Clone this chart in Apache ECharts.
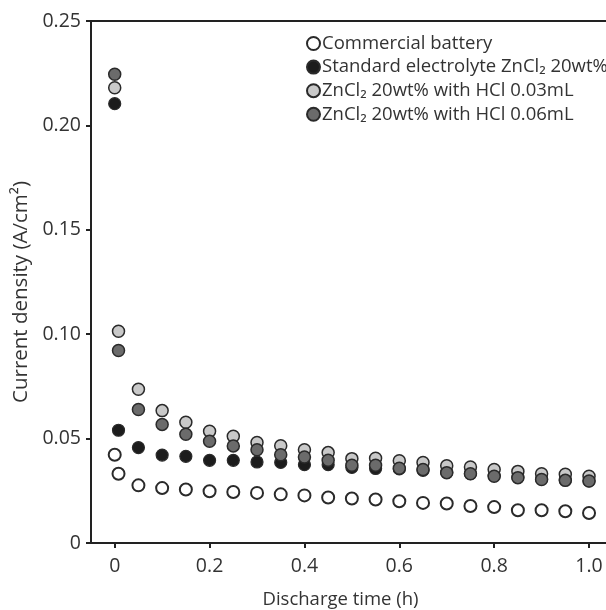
<!DOCTYPE html>
<html>
<head>
<meta charset="utf-8">
<script src="https://cdn.jsdelivr.net/npm/echarts@6/dist/echarts.min.js"></script>
<style>html,body{margin:0;padding:0;background:#fff}#c{width:606px;height:610px}</style>
</head>
<body>
<div id="c"></div>
<script>
var times = [0, 0.008, 0.05, 0.1, 0.15, 0.2, 0.25, 0.3, 0.35, 0.4, 0.45, 0.5, 0.55, 0.6, 0.65, 0.7, 0.75, 0.8, 0.85, 0.9, 0.95, 1.0];
var commercial = [0.0423, 0.0332, 0.0276, 0.0263, 0.0256, 0.0248, 0.0244, 0.0240, 0.0233, 0.0228, 0.0218, 0.0213, 0.0208, 0.0200, 0.0192, 0.0189, 0.0177, 0.0172, 0.0157, 0.0157, 0.0152, 0.0144];
var standard = [0.2104, 0.0540, 0.0457, 0.0421, 0.0415, 0.0396, 0.0396, 0.0388, 0.0386, 0.0375, 0.0375, 0.0362, 0.0357, 0.0355, 0.0348, 0.0338, 0.0332, 0.0323, 0.0316, 0.0307, 0.0302, 0.0298];
var hcl003 = [0.2180, 0.1014, 0.0736, 0.0634, 0.0578, 0.0535, 0.0511, 0.0481, 0.0466, 0.0447, 0.0433, 0.0404, 0.0406, 0.0394, 0.0386, 0.0370, 0.0364, 0.0352, 0.0343, 0.0332, 0.0329, 0.0320];
var hcl006 = [0.2245, 0.0922, 0.0639, 0.0568, 0.0521, 0.0487, 0.0465, 0.0447, 0.0423, 0.0412, 0.0396, 0.0372, 0.0372, 0.0358, 0.0352, 0.0337, 0.0332, 0.0320, 0.0313, 0.0304, 0.0300, 0.0297];
var names = ['Commercial battery', 'Standard electrolyte ZnCl\u2082 20wt%', 'ZnCl\u2082 20wt% with HCl 0.03mL', 'ZnCl\u2082 20wt% with HCl 0.06mL'];
var xTicks = [0, 0.2, 0.4, 0.6, 0.8, 1.0];
var yTicks = [0, 0.05, 0.10, 0.15, 0.20, 0.25];

function pairs(ys){ return times.map(function(t,i){ return [t, ys[i]]; }); }
var font = 'Open Sans';
function ser(name, ys, fill, z, bw){
  return {
    name: name, type: 'scatter', data: pairs(ys), symbol: 'circle', symbolSize: 12, z: z,
    itemStyle: { color: fill, borderColor: '#2a2a2a', borderWidth: bw, opacity: 1 },
    emphasis: { disabled: true }
  };
}
var chart = echarts.init(document.getElementById('c'), null, {renderer: 'canvas'});
chart.setOption({
  animation: false,
  textStyle: { fontFamily: font },
  grid: { left: 91, top: 21, width: 517, height: 522, show: true, borderColor: '#222', borderWidth: 2, containLabel: false, outerBoundsMode: 'none' },
  legend: {
    orient: 'vertical', left: 301, top: 29, itemWidth: 13, itemHeight: 13, itemGap: 4.6,
    icon: 'circle', selectedMode: false,
    data: names,
    textStyle: { fontFamily: font, fontSize: 18.5, color: '#333', lineHeight: 18, padding: [0,0,0,-3] }
  },
  xAxis: {
    type: 'value', min: -0.05, max: 1.04,
    name: 'Discharge time (h)', nameLocation: 'middle', nameGap: 47,
    nameTextStyle: { fontFamily: font, fontSize: 18.5, color: '#333', padding: [0, 18, 0, 0] },
    axisLine: { show: true, onZero: false, lineStyle: { color: '#222', width: 2 } },
    axisTick: { show: true, length: 5, lineStyle: { color: '#222', width: 2 }, customValues: xTicks },
    axisLabel: { fontFamily: font, fontSize: 19.5, color: '#333', margin: 13, customValues: xTicks,
      formatter: function(v){ return v === 0 ? '0' : v.toFixed(1); } },
    splitLine: { show: false }
  },
  yAxis: {
    type: 'value', min: 0, max: 0.25, interval: 0.05,
    name: 'Current density (A/cm\u00b2)', nameLocation: 'middle', nameGap: 58,
    nameTextStyle: { fontFamily: font, fontSize: 20.5, color: '#333', padding: [0, 20, 0, 0] },
    axisLine: { show: true, onZero: false, lineStyle: { color: '#222', width: 2 } },
    axisTick: { show: true, length: 5, lineStyle: { color: '#222', width: 2 } },
    axisLabel: { fontFamily: font, fontSize: 19.5, color: '#333', margin: 10,
      formatter: function(v){ return v === 0 ? '0' : v.toFixed(2); } },
    splitLine: { show: false }
  },
  series: [
    ser(names[0], commercial, '#ffffff', 2, 2),
    ser(names[1], standard, '#1c1c1c', 3, 1.2),
    ser(names[2], hcl003, '#c9c9c9', 4, 1.5),
    ser(names[3], hcl006, '#6b6b6b', 5, 1.5)
  ]
});
</script>
</body>
</html>
